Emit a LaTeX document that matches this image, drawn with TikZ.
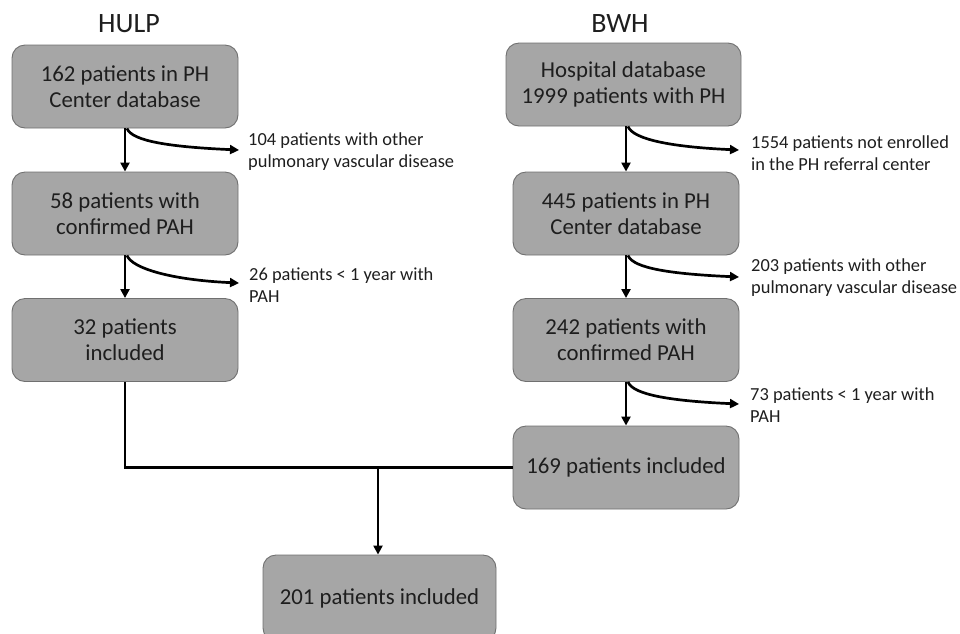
\documentclass[tikz,border=0pt]{standalone}
\usepackage{fontspec}
\setmainfont{Carlito}
\usetikzlibrary{arrows.meta,calc}
\definecolor{boxfill}{HTML}{A6A6A6}
\definecolor{boxline}{HTML}{707070}
\definecolor{txt}{HTML}{1E1E1E}
\begin{document}
\begin{tikzpicture}[x=1pt,y=-1pt,
  box/.style={draw=boxline,fill=boxfill,line width=0.9pt,rounded corners=13pt,
    minimum width=226pt,minimum height=83pt,inner sep=0pt,align=center,
    font=\fontsize{22.8}{26}\selectfont,text=txt},
  lbl/.style={anchor=west,align=left,inner sep=0pt,font=\fontsize{18.4}{22}\selectfont,text=txt},
  ttl/.style={font=\fontsize{28}{30}\selectfont,text=txt,inner sep=0pt},
  conn/.style={line width=2.7pt,-{Triangle[length=9pt,width=9pt]}},
  plain/.style={line width=2.7pt}
]
\useasboundingbox (0,0) rectangle (960,633);

% titles
\node[ttl] (hulp) at (129,24) {HULP};
\node[ttl] (bwh) at (620,24) {BWH};

% left column
\node[box] (l1) at (125,86.5) {162 patients in PH\\Center database};
\node[box] (l2) at (125,213.5) {58 patients with\\confirmed PAH};
\node[box] (l3) at (125,340) {32 patients\\included};

% right column
\node[box,minimum width=235pt] (r1) at (623.5,84.5) {Hospital database\\1999 patients with PH};
\node[box] (r2) at (626,213.5) {445 patients in PH\\Center database};
\node[box] (r3) at (626,340) {242 patients with\\confirmed PAH};
\node[box] (r4) at (626,467.5) {169 patients included};

% final
\node[box,minimum width=233pt,minimum height=86pt] (fin) at (379.5,598) {201 patients included};

% exclusion labels
\node[lbl] (x1) at (248,152) {104 patients with other\\pulmonary vascular disease};
\node[lbl] (x2) at (249,285) {26 patients < 1 year with\\PAH};
\node[lbl] (x3) at (751,153) {1554 patients not enrolled\\in the PH referral center};
\node[lbl] (x4) at (751,278) {203 patients with other\\pulmonary vascular disease};
\node[lbl] (x5) at (750,405) {73 patients < 1 year with\\PAH};

\coordinate (t1) at (239,150);
\coordinate (t2) at (239,283);
\coordinate (t3) at (739,150);
\coordinate (t4) at (739,277);
\coordinate (t5) at (739,404);

% vertical arrows
\draw[conn] (l1.south) -- (l2.north);
\draw[conn] (l2.south) -- (l3.north);
\draw[conn] (r1.south -| r2.north) -- (r2.north);
\draw[conn] (r2.south) -- (r3.north);
\draw[conn] (r3.south) -- (r4.north);

% branch arrows
\draw[conn] ([xshift=2pt]l1.south) .. controls +(5,13) and +(-67,-3) .. (t1);
\draw[conn] ([xshift=2pt]l2.south) .. controls +(5,13) and +(-67,-3) .. (t2);
\draw[conn] ([xshift=2pt]r1.south -| r2.north) .. controls +(5,13) and +(-67,-3) .. (t3);
\draw[conn] ([xshift=2pt]r2.south) .. controls +(5,13) and +(-67,-3) .. (t4);
\draw[conn] ([xshift=2pt]r3.south) .. controls +(5,13) and +(-67,-3) .. (t5);

% merge
\draw[plain] (l3.south) |- (r4.west);
\coordinate (m) at ([xshift=-1.5pt]fin.north |- r4.west);
\draw[conn] (m) -- ([xshift=-1.5pt]fin.north);
\end{tikzpicture}
\end{document}
